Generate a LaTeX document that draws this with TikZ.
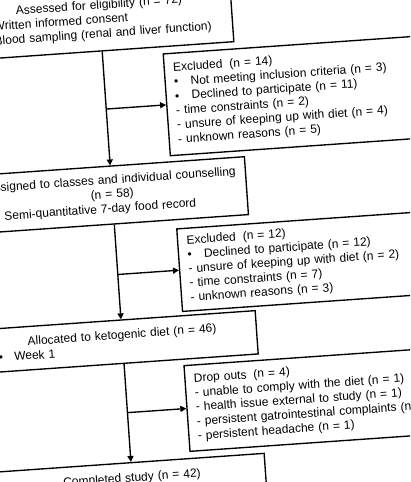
\documentclass[tikz,border=0pt]{standalone}
\usepackage{fontspec}
\setmainfont{Liberation Sans}
\usetikzlibrary{arrows.meta}
\setlength{\parindent}{0pt}
\tikzset{
  box/.style={draw, line width=1.35pt, rectangle, anchor=north west, inner ysep=1pt,
    align=left, font=\fontsize{12}{14.35}\selectfont},
  mainbox/.style={box, inner xsep=10pt},
  sidebox/.style={box, inner xsep=9pt, text width=312pt},
  arr/.style={line width=1.35pt, -{Triangle[length=6pt,width=6pt]}},
}
\newcommand\ctr[1]{\leavevmode\hbox to \hsize{\hss#1\hss}}
\newcommand\mbul{\leavevmode\makebox[15.5pt][l]{\textbullet}}
\newcommand\sbul{\leavevmode\makebox[16.5pt][l]{\textbullet}}
\begin{document}
\begin{tikzpicture}[x=1pt,y=1pt]
\useasboundingbox (0,0) rectangle (410,-482);
\fill[white] (0,0) rectangle (410,-482);
\clip (0,0) rectangle (410,-482);
\begin{scope}[shift={(205,-241)}, rotate=4, transform shape]
\node[mainbox, text width=244pt, minimum height=61.5pt] (top) at (-222,259)
  {\ctr{Assessed for eligibility (n = 72)}\\
   \mbul Written informed consent\\
   \mbul Blood sampling (renal and liver function)};
\node[sidebox, minimum height=102pt] (ex1) at (-29.3,190.2)
  {Excluded\hspace{7pt}(n = 14)\\
   \sbul Not meeting inclusion criteria (n = 3)\\
   \sbul Declined to participate (n = 11)\\
   - time constraints (n = 2)\\
   - unsure of keeping up with diet (n = 4)\\
   - unknown reasons (n = 5)};
\node[mainbox, text width=249pt, minimum height=58pt] (assign) at (-224.5,82)
  {\ctr{Assigned to classes and individual counselling}\\
   \ctr{(n = 58)}\\
   \mbul Semi-quantitative 7-day food record};
\node[sidebox, minimum height=82.7pt] (ex2) at (-28,14.7)
  {Excluded\hspace{7pt}(n = 12)\\
   \sbul Declined to participate (n = 12)\\
   - unsure of keeping up with diet (n = 2)\\
   - time constraints (n = 7)\\
   - unknown reasons (n = 3)};
\node[mainbox, text width=249pt, minimum height=43.4pt] (alloc) at (-224.5,-72.3)
  {\ctr{Allocated to ketogenic diet (n = 46)}\\
   \mbul Week 1};
\node[sidebox, minimum height=85.9pt] (drop) at (-30.3,-122.2)
  {Drop outs\hspace{7pt}(n = 4)\\
   - unable to comply with the diet (n = 1)\\
   - health issue external to study (n = 1)\\
   - persistent gatrointestinal complaints (n = 1)\\
   - persistent headache (n = 1)};
\node[mainbox, text width=247pt, minimum height=32pt] (comp) at (-223.5,-215.3)
  {\ctr{Completed study (n = 42)}};
\draw[arr] (top.south) -- (assign.north);
\draw[arr] (top.south |- ex1.west) -- (ex1.west);
\draw[arr] (assign.south) -- (alloc.north);
\draw[arr] (assign.south |- ex2.west) -- (ex2.west);
\draw[arr] (alloc.south) -- (comp.north);
\draw[arr] (alloc.south |- drop.west) -- (drop.west);
\end{scope}
\end{tikzpicture}
\end{document}
